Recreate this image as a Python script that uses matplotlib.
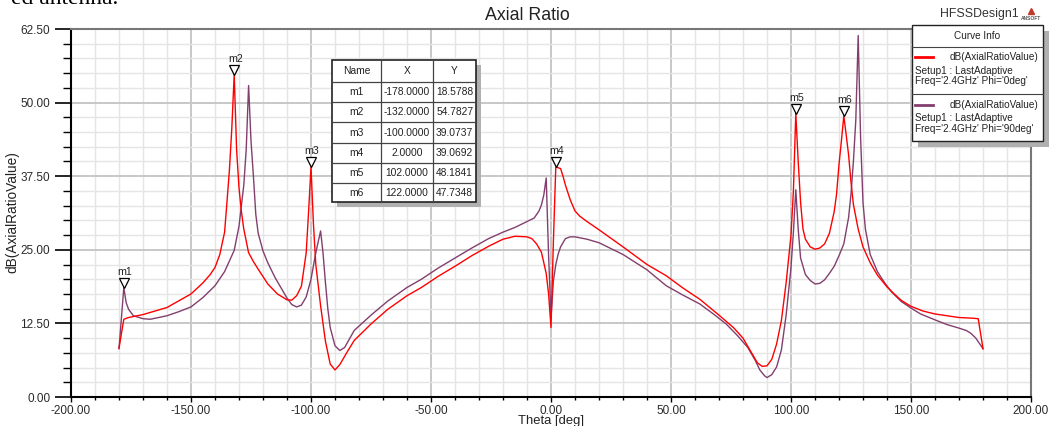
import matplotlib
matplotlib.use("Agg")
import matplotlib.pyplot as plt
from matplotlib import font_manager
from matplotlib.patches import Rectangle
from matplotlib.ticker import MultipleLocator, FormatStrFormatter
from matplotlib.transforms import offset_copy

# Axial ratio vs theta, Phi = 0 deg cut
theta_phi0 = [-180, -178, -176, -170, -160, -150, -145, -142, -140, -138, -136, -135, -134, -133, -132,
              -131, -130, -129, -128, -126, -124, -122, -118, -114, -110, -108, -106, -104, -102, -101, -100,
              -99, -98, -96, -94, -92, -90, -88, -85, -82, -75, -68, -60, -54, -47, -40, -33, -26, -20,
              -15, -10, -8, -6, -4, -2, -1, 0, 1, 2, 4, 5, 6, 8, 10, 12, 15, 20, 30, 40, 48, 55, 62, 70,
              76, 80, 83, 86, 88, 90, 92, 94, 96, 98, 100, 101, 102, 103, 104, 105, 106, 108, 110, 112,
              114, 116, 118, 119, 120, 121, 122, 123, 124, 125, 126, 128, 130, 133, 136, 140, 143, 146,
              150, 155, 160, 165, 170, 175, 178, 180]
ar_phi0 = [8.3, 13.2, 13.5, 14.0, 15.2, 17.5, 19.4, 20.8, 22.0, 24.2, 28.0, 33.2, 38.5, 45.6, 54.7827,
           42.0, 35.5, 31.5, 28.5, 24.5, 23.0, 21.7, 19.2, 17.5, 16.5, 16.45, 17.2, 18.8, 24.5, 31.5, 39.0737,
           29.5, 22.5, 15.5, 9.5, 5.6, 4.6, 5.5, 7.6, 9.6, 12.4, 14.9, 17.2, 18.6, 20.5, 22.2, 24.0, 25.6, 26.8,
           27.3, 27.2, 26.9, 26.0, 24.6, 21.0, 17.5, 11.8, 26.5, 39.0692, 38.8, 37.5, 36.0, 33.5, 31.6, 30.7,
           29.8, 28.4, 25.5, 22.5, 20.6, 18.5, 16.6, 13.9, 11.8, 10.0, 7.9, 5.8, 5.2, 5.3, 6.4, 9.0, 13.0, 19.5,
           27.5, 35.0, 48.1841, 40.0, 33.0, 28.5, 26.8, 25.5, 25.1, 25.3, 26.0, 27.8, 31.5, 34.5, 39.5, 43.5,
           47.7348, 44.5, 41.1, 36.5, 32.7, 28.5, 25.5, 22.8, 20.7, 18.7, 17.5, 16.4, 15.4, 14.6, 14.1, 13.8,
           13.5, 13.4, 13.3, 8.2]

# Phi = 90 deg cut
theta_phi90 = [-180, -178, -177, -176, -174, -170, -167, -160, -155, -150, -145, -140, -136, -132, -130,
               -128, -127, -126, -125, -124, -123, -122, -120, -118, -115, -112, -110, -108, -106, -104, -102,
               -100, -98, -96, -95, -94, -93, -92, -90, -88, -86, -82, -75, -68, -60, -54, -47, -40, -33, -26,
               -20, -15, -10, -7, -5, -4, -3, -2, -1, 0, 1, 2, 3, 4, 6, 8, 10, 15, 20, 30, 40, 48, 55, 62, 68,
               73, 78, 82, 85, 87, 89, 90, 92, 94, 96, 98, 100, 101, 102, 103, 104, 106, 108, 110, 112, 114,
               116, 118, 120, 122, 124, 125, 126, 127, 128, 129, 130, 131, 133, 136, 139, 142, 146, 150, 154,
               160, 165, 170, 173, 175, 177, 180]
ar_phi90 = [8.2, 18.5788, 16.0, 14.9, 13.8, 13.3, 13.2, 13.8, 14.5, 15.3, 16.9, 18.9, 21.3, 24.9, 29.0,
            36.0, 42.0, 52.9, 43.5, 37.5, 31.0, 27.8, 24.8, 22.8, 20.3, 18.2, 16.8, 15.7, 15.3, 15.6, 17.0,
            20.0, 24.5, 28.2, 24.5, 19.5, 15.0, 11.8, 8.7, 7.9, 8.4, 11.3, 13.9, 16.3, 18.6, 20.0, 21.9, 23.6,
            25.3, 26.9, 28.0, 28.8, 29.8, 30.4, 31.6, 32.6, 34.3, 37.2, 24.0, 13.5, 19.7, 22.5, 24.3, 25.5,
            26.9, 27.2, 27.2, 26.8, 26.2, 24.2, 21.6, 18.9, 17.3, 15.8, 14.0, 12.4, 10.3, 8.4, 6.3, 4.6, 3.6,
            3.3, 3.8, 5.1, 8.0, 14.0, 22.0, 28.0, 35.2, 28.5, 23.6, 20.8, 19.8, 19.2, 19.3, 19.9, 21.0, 22.2,
            24.0, 26.0, 30.5, 34.5, 40.0, 47.0, 61.4, 44.0, 33.0, 28.5, 24.2, 21.3, 19.4, 17.8, 16.2, 15.1,
            14.1, 13.1, 12.3, 11.7, 11.3, 10.8, 10.0, 8.2]

# markers
mk_name = ["m1", "m2", "m3", "m4", "m5", "m6"]
mk_theta = [-178.0, -132.0, -100.0, 2.0, 102.0, 122.0]
mk_value = [18.5788, 54.7827, 39.0737, 39.0692, 48.1841, 47.7348]

curve_phi = ["0deg", "90deg"]

RED = "#ff0000"
PURPLE = "#823f6e"

installed = {f.name for f in font_manager.fontManager.ttflist}
if "Liberation Sans Narrow" in installed:
    plt.rcParams["font.family"] = ["Liberation Sans Narrow", "DejaVu Sans"]
    fs = 1.0
else:
    plt.rcParams["font.family"] = ["Liberation Sans", "DejaVu Sans"]
    fs = 0.85

W, H = 1050, 426
fig = plt.figure(figsize=(W / 100, H / 100), dpi=100)
ax = fig.add_axes([71 / W, 1 - 397 / H, 960 / W, 368 / H])

ax.plot(theta_phi90, ar_phi90, color=PURPLE, lw=1.0, zorder=3)
ax.plot(theta_phi0, ar_phi0, color=RED, lw=1.0, zorder=4)

ax.set_xlim(-200, 200)
ax.set_ylim(0, 62.5)
ax.xaxis.set_major_locator(MultipleLocator(50))
ax.xaxis.set_minor_locator(MultipleLocator(10))
ax.yaxis.set_major_locator(MultipleLocator(12.5))
ax.yaxis.set_minor_locator(MultipleLocator(2.5))
ax.xaxis.set_major_formatter(FormatStrFormatter("%.2f"))
ax.yaxis.set_major_formatter(FormatStrFormatter("%.2f"))
ax.grid(which="major", color="#c8c8c8", lw=1.4)
ax.grid(which="minor", color="#e5e5e5", lw=1.0)
ax.set_axisbelow(True)

ax.tick_params(axis="y", which="major", length=11.5, width=1.2, pad=3.5, labelsize=10 * fs, labelcolor="#2a2a2a")
ax.tick_params(axis="y", which="minor", length=5.8, width=1.0)
ax.tick_params(axis="x", which="major", length=3.5, width=1.0, pad=2, labelsize=10 * fs, labelcolor="#2a2a2a")
ax.tick_params(axis="x", which="minor", length=2.5, width=1.0)
for side in ["left", "bottom"]:
    ax.spines[side].set_color("black")
    ax.spines[side].set_linewidth(1.5)
for side in ["top", "right"]:
    ax.spines[side].set_color("#777777")
    ax.spines[side].set_linewidth(1.5)

# marker triangles sit with their tip on the curve
tri = offset_copy(ax.transData, fig=fig, x=0, y=4.5, units="dots")
ax.plot(mk_theta, mk_value, "v", ms=6.5, mfc="white", mec="black", mew=0.9,
        transform=tri, clip_on=False, zorder=6)
for name, t, v in zip(mk_name, mk_theta, mk_value):
    ax.annotate(name, (t, v), xytext=(1, 12.5), textcoords="offset pixels",
                ha="center", va="baseline", fontsize=9 * fs, color="#222222", zorder=6)

# overlay in pixel coordinates for the boxes and captions
ov = fig.add_axes([0, 0, 1, 1])
ov.set_xlim(0, W)
ov.set_ylim(H, 0)
ov.axis("off")
ov.patch.set_alpha(0)

# marker table
tx0, tx1, ty0, ty1 = 331.7, 476.0, 60.0, 201.7
cols = [331.7, 381.0, 433.3, 476.0]
rows = [60.0, 81.7, 102.0, 122.3, 142.7, 163.0, 183.3, 201.7]
ov.add_patch(Rectangle((tx0 + 5, ty0 + 5), tx1 - tx0, ty1 - ty0, fc="#b0b0b0", ec="none"))
ov.add_patch(Rectangle((tx0, ty0), tx1 - tx0, ty1 - ty0, fc="white", ec="#222222", lw=1.2))
for c in cols[1:-1]:
    ov.plot([c, c], [ty0, ty1], color="#444444", lw=0.9)
for r in rows[1:-1]:
    ov.plot([tx0, tx1], [r, r], color="#444444", lw=0.9)
table_rows = [["Name", "X", "Y"]] + [[n, f"{t:.4f}", f"{v:.4f}"] for n, t, v in zip(mk_name, mk_theta, mk_value)]
for i, cells in enumerate(table_rows):
    yc = (rows[i] + rows[i + 1]) / 2
    for j, txt in enumerate(cells):
        ov.text((cols[j] + cols[j + 1]) / 2, yc, txt, ha="center", va="center",
                fontsize=8.7 * fs, color="#222222")

# curve info box
lx0, lx1, ly0, ly1 = 911.7, 1042.7, 25.0, 140.7
ov.add_patch(Rectangle((lx0 + 6, ly0 + 6), lx1 - lx0, ly1 - ly0, fc="#b0b0b0", ec="none"))
ov.add_patch(Rectangle((lx0, ly0), lx1 - lx0, ly1 - ly0, fc="white", ec="#222222", lw=1.0))
ov.plot([lx0, lx1], [46.7, 46.7], color="#444444", lw=0.8)
ov.plot([lx0, lx1], [94.3, 94.3], color="#444444", lw=0.8)
ov.text((lx0 + lx1) / 2, 36, "Curve Info", ha="center", va="center", fontsize=8.5 * fs, color="#222222")
for k, (col, phi) in enumerate(zip([RED, PURPLE], curve_phi)):
    y0 = 57.3 + k * 47.7
    ov.plot([915, 933], [y0, y0], color=col, lw=2)
    ov.text(1038, y0, "dB(AxialRatioValue)", ha="right", va="center", fontsize=8.5 * fs, color="#222222")
    ov.text(915, y0 + 13.4, "Setup1 : LastAdaptive", ha="left", va="center", fontsize=8.5 * fs, color="#222222")
    ov.text(915, y0 + 24.0, f"Freq='2.4GHz' Phi='{phi}'", ha="left", va="center",
            fontsize=8.5 * fs, color="#222222")

# header captions
ov.text(527, 20, "Axial Ratio", ha="center", va="baseline", fontsize=15 * fs, color="#222222")
ov.text(979, 16.5, "HFSSDesign1", ha="center", va="baseline", fontsize=10.5 * fs, color="#333333")
ov.plot([1031], [11], marker="^", ms=5, color="#c0392b")
ov.text(1031, 18, "ANSOFT", ha="center", va="center", fontsize=3.5, weight="bold", color="#555555")
ov.text(118, 3.5, "ed antenna.", ha="right", va="baseline", fontsize=17,
        family=["Liberation Serif", "DejaVu Serif"], color="black")

# axis titles
ov.text(12, 212, "dB(AxialRatioValue)", rotation=90, ha="center", va="center", fontsize=11.5 * fs, color="#222222")
ov.text(551, 415, "Theta [deg]", ha="center", va="top", fontsize=11 * fs, color="#222222")

fig.savefig("out.png", dpi=100)
